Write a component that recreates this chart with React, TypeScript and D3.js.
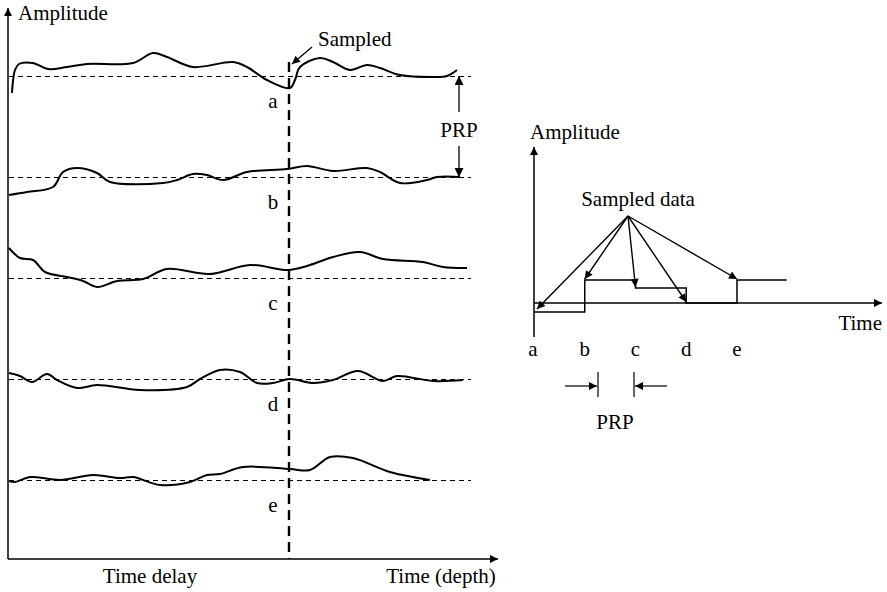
import React from "react";
import * as d3 from "d3";

// ---------- data ----------
const traceLabels = ["a", "b", "c", "d", "e"];

// [time delay, amplitude relative to trace baseline]
const traceA: [number, number][] = [[3,-17],[4,-5],[6,6],[10,12],[24,13],[39,7],[58,9],[78,12],[124,13],[144,23],[158,19],[184,9],[224,14],[238,9],[258,-4],[281,-12],[286,-4],[291,9],[311,18],[324,14],[341,6],[358,11],[371,8],[391,1],[424,-1],[438,0],[448,6]];
const traceB: [number, number][] = [[0,-18],[18,-15],[44,-10],[54,5],[68,9],[88,4],[101,-5],[154,-6],[168,-3],[184,3],[198,2],[214,-3],[238,5],[278,8],[298,11],[324,6],[358,9],[371,5],[391,-6],[418,-3],[428,0],[451,0]];
const traceC: [number, number][] = [[0,30],[11,20],[24,18],[36,6],[58,1],[74,-3],[88,-9],[108,-3],[134,-1],[158,9],[201,4],[241,13],[279,8],[298,12],[324,21],[351,26],[374,19],[414,16],[434,11],[458,10]];
const traceD: [number, number][] = [[0,6],[11,3],[23,-3],[38,5],[48,-1],[68,-9],[88,-6],[131,-11],[178,-8],[191,0],[211,9],[231,7],[248,-4],[264,-4],[281,0],[304,-4],[324,-1],[349,8],[374,-2],[388,3],[424,-2],[454,-1]];
const traceE: [number, number][] = [[0,-1],[6,-2],[21,3],[51,0],[84,5],[111,2],[124,3],[151,-5],[181,-2],[198,5],[211,6],[234,13],[281,11],[301,10],[321,23],[344,22],[381,8],[421,0]];
const traces = [traceA, traceB, traceC, traceD, traceE];

const sampleTime = 280; // sampled time delay
const sampledValues = [-9, 23, 15, 0, 23]; // amplitude at sample time for a..e

const FONT = "Liberation Serif, DejaVu Serif, serif";

export default function App() {
  // ---------- left panel scales ----------
  const xL = d3.scaleLinear().domain([0, 460]).range([9, 469]);
  const baseY = d3.scaleLinear().domain([0, 4]).range([76, 480]);
  const amp = (i: number) => d3.scaleLinear().domain([0, 10]).range([baseY(i), baseY(i) - 10]);

  const axisX0 = 8, axisY0 = 559;

  // ---------- right panel scales ----------
  const xR = d3.scaleLinear().domain([0, 4]).range([534, 737]);
  const yR = d3.scaleLinear().domain([0, 10]).range([303, 293]);
  const stepData: [number, number][] = sampledValues.map((v, i) => [i, v] as [number, number]);
  stepData.push([4.98, sampledValues[4]]);
  const stepLine = d3.line<[number, number]>().x(d => xR(d[0])).y(d => yR(d[1])).curve(d3.curveStepAfter);

  const origin = { x: 628, y: 216 };
  const ts = { fontFamily: FONT, fontSize: 21 } as React.CSSProperties;

  return (
    <svg width={887} height={592} style={{ position: "absolute", left: 0, top: 0, background: "#fff" }}>
      <defs>
        <marker id="ah" viewBox="0 0 10 10" refX="10" refY="5" markerWidth="12" markerHeight="8" markerUnits="userSpaceOnUse" orient="auto-start-reverse">
          <path d="M0,0 L10,5 L0,10 z" fill="#000" />
        </marker>
        <marker id="ahs" viewBox="0 0 10 10" refX="10" refY="5" markerWidth="13" markerHeight="9" markerUnits="userSpaceOnUse" orient="auto-start-reverse">
          <path d="M0,0 L10,5 L0,10 z" fill="#000" />
        </marker>
      </defs>
      <g style={ts} fill="#000">
        {/* ---------- left panel ---------- */}
        <line x1={axisX0} y1={axisY0} x2={axisX0} y2={8} stroke="#000" strokeWidth={1.5} markerEnd="url(#ah)" />
        <line x1={axisX0} y1={axisY0} x2={498} y2={axisY0} stroke="#000" strokeWidth={1.5} markerEnd="url(#ah)" />
        <text x={18} y={20}>Amplitude</text>
        <text x={150} y={583} textAnchor="middle">Time delay</text>
        <text x={441} y={583} textAnchor="middle">Time (depth)</text>

        {traces.map((tr, i) => {
          const a = amp(i);
          const line = d3.line<[number, number]>().x(d => xL(d[0])).y(d => a(d[1])).curve(d3.curveCatmullRom.alpha(0.5));
          return (
            <g key={i}>
              <line x1={xL(0)} x2={xL(462)} y1={baseY(i) + 0.5} y2={baseY(i) + 0.5} stroke="#000" strokeWidth={1.2} strokeDasharray="5,4" />
              <path d={line(tr) || ""} fill="none" stroke="#000" strokeWidth={2} />
              <text x={273} y={baseY(i) + 32} textAnchor="middle">{traceLabels[i]}</text>
            </g>
          );
        })}

        {/* sampled vertical */}
        <line x1={xL(sampleTime)} x2={xL(sampleTime)} y1={62} y2={axisY0} stroke="#000" strokeWidth={2.4} strokeDasharray="10,6" />
        <text x={318} y={46}>Sampled</text>
        <line x1={312} y1={47} x2={292} y2={64} stroke="#000" strokeWidth={1.3} markerEnd="url(#ah)" />

        {/* PRP (left) */}
        <line x1={459} x2={459} y1={112} y2={baseY(0)} stroke="#000" strokeWidth={1.3} markerEnd="url(#ahs)" />
        <line x1={459} x2={459} y1={146} y2={baseY(1)} stroke="#000" strokeWidth={1.3} markerEnd="url(#ahs)" />
        <text x={459} y={137} textAnchor="middle">PRP</text>

        {/* ---------- right panel ---------- */}
        <line x1={534} y1={337} x2={534} y2={147} stroke="#000" strokeWidth={1.5} markerEnd="url(#ah)" />
        <line x1={534} y1={303} x2={882} y2={303} stroke="#000" strokeWidth={1.5} markerEnd="url(#ah)" />
        <text x={530} y={139}>Amplitude</text>
        <text x={882} y={330} textAnchor="end">Time</text>
        {traceLabels.map((l, i) => (
          <text key={l} x={xR(i) - (i === 0 ? 1 : 0)} y={356} textAnchor="middle">{l}</text>
        ))}
        <path d={stepLine(stepData) || ""} fill="none" stroke="#000" strokeWidth={1.5} />
        <text x={638} y={206} textAnchor="middle">Sampled data</text>
        {sampledValues.map((v, i) => {
          const tx = xR(i) + (i === 0 ? 3 : 0);
          const ty = yR(v) - (i === 0 ? 3 : 1);
          return <line key={i} x1={origin.x} y1={origin.y} x2={tx} y2={ty} stroke="#000" strokeWidth={1.4} markerEnd="url(#ah)" />;
        })}

        {/* PRP bracket (right) */}
        <line x1={598} x2={598} y1={372} y2={397} stroke="#000" strokeWidth={1.2} />
        <line x1={634} x2={634} y1={372} y2={397} stroke="#000" strokeWidth={1.2} />
        <line x1={565} x2={597} y1={386} y2={386} stroke="#000" strokeWidth={1.2} markerEnd="url(#ah)" />
        <line x1={667} x2={635} y1={386} y2={386} stroke="#000" strokeWidth={1.2} markerEnd="url(#ah)" />
        <text x={615} y={429} textAnchor="middle">PRP</text>
      </g>
    </svg>
  );
}
